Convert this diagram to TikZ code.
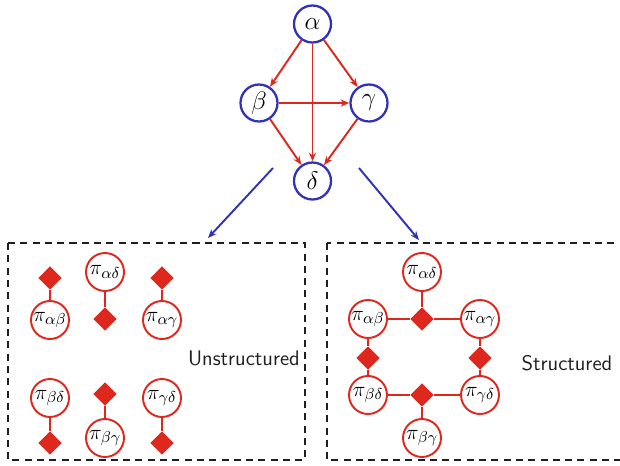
\documentclass[tikz,border=0pt]{standalone}
\usepackage{tikz}
\usepackage{xcolor}
\usepackage{amsmath}
\usetikzlibrary{arrows.meta, shapes.geometric, positioning}
\definecolor{varblue}{RGB}{50,50,185}
\definecolor{facred}{RGB}{222,40,30}
\definecolor{boxgray}{RGB}{30,30,30}

\begin{document}
\begin{tikzpicture}[
    var/.style={circle, draw=varblue, line width=1.3pt, minimum size=0.74cm,
                inner sep=0pt, font=\Large},
    pinode/.style={circle, draw=facred, line width=1.1pt, minimum size=0.76cm,
                   inner sep=0pt, font=\fontsize{13}{15}\selectfont},
    fac/.style={diamond, fill=facred, minimum size=0.47cm, inner sep=0pt},
    dep/.style={draw=facred, line width=1.1pt, -{Stealth[length=5pt,width=4pt]}},
    link/.style={draw=facred, line width=1.1pt},
    split/.style={draw=varblue, line width=1.1pt, -{Stealth[length=5pt,width=4pt]}},
    region/.style={draw=boxgray, line width=1.4pt, dash pattern=on 4pt off 3pt},
    lbl/.style={font=\large\sffamily, text=boxgray}
  ]
    \useasboundingbox (0,0) rectangle (12.4,-9.32);

    % network over the four variables
    \node[var] (a) at (6.25,-0.48) {$\alpha$};
    \node[var] (b) at (5.18,-2.06) {$\beta$};
    \node[var] (g) at (7.38,-2.06) {$\gamma$};
    \node[var] (d) at (6.25,-3.62) {$\delta$};
    \draw[dep] (a) -- (b);
    \draw[dep] (a) -- (g);
    \draw[dep] (a.south) -- (d.north);
    \draw[dep] (b) -- (g);
    \draw[dep] (b) -- (d);
    \draw[dep] (g) -- (d);

    \coordinate (sl0) at (5.46,-3.36);
    \coordinate (sl1) at (4.16,-4.76);
    \coordinate (sr0) at (7.18,-3.36);
    \coordinate (sr1) at (8.38,-4.80);
    \draw[split] (sl0) -- (sl1);
    \draw[split] (sr0) -- (sr1);

    % unstructured: one factor per parameter
    \draw[region] (0.16,-4.86) rectangle (6.10,-9.20);
    \node[fac] (uf1) at (1.00,-5.56) {};
    \node[pinode] (uab) at (1.00,-6.40) {$\pi_{\alpha\beta}$};
    \node[pinode] (uad) at (2.10,-5.44) {$\pi_{\alpha\delta}$};
    \node[fac] (uf2) at (2.10,-6.38) {};
    \node[fac] (uf3) at (3.24,-5.56) {};
    \node[pinode] (uag) at (3.24,-6.40) {$\pi_{\alpha\gamma}$};
    \node[pinode] (ubd) at (1.00,-7.96) {$\pi_{\beta\delta}$};
    \node[fac] (uf4) at (1.00,-8.86) {};
    \node[fac] (uf5) at (2.10,-7.88) {};
    \node[pinode] (ubg) at (2.10,-8.76) {$\pi_{\beta\gamma}$};
    \node[pinode] (ugd) at (3.24,-7.96) {$\pi_{\gamma\delta}$};
    \node[fac] (uf6) at (3.24,-8.86) {};
    \foreach \p/\f in {uab/uf1,uad/uf2,uag/uf3,ubd/uf4,ubg/uf5,ugd/uf6}
      \draw[link] (\p) -- (\f);
    \node[lbl] (ulbl) at (4.88,-7.16) {Unstructured};

    % structured: factors shared between parameters
    \draw[region] (6.54,-4.86) rectangle (12.7,-9.20);
    \node[pinode] (sad) at (8.44,-5.44) {$\pi_{\alpha\delta}$};
    \node[pinode] (sab) at (7.36,-6.38) {$\pi_{\alpha\beta}$};
    \node[fac] (sf1) at (8.44,-6.38) {};
    \node[pinode] (sag) at (9.60,-6.38) {$\pi_{\alpha\gamma}$};
    \node[fac] (sf2) at (7.36,-7.16) {};
    \node[fac] (sf3) at (9.60,-7.16) {};
    \node[pinode] (sbd) at (7.36,-7.90) {$\pi_{\beta\delta}$};
    \node[fac] (sf4) at (8.44,-7.90) {};
    \node[pinode] (sgd) at (9.60,-7.90) {$\pi_{\gamma\delta}$};
    \node[pinode] (sbg) at (8.44,-8.76) {$\pi_{\beta\gamma}$};
    \foreach \p/\f in {sab/sf1,sag/sf1,sad/sf1,sab/sf2,sbd/sf2,sag/sf3,sgd/sf3,
                       sbd/sf4,sgd/sf4,sbg/sf4}
      \draw[link] (\p) -- (\f);
    \node[lbl] (slbl) at (11.34,-7.26) {Structured};
\end{tikzpicture}
\end{document}
